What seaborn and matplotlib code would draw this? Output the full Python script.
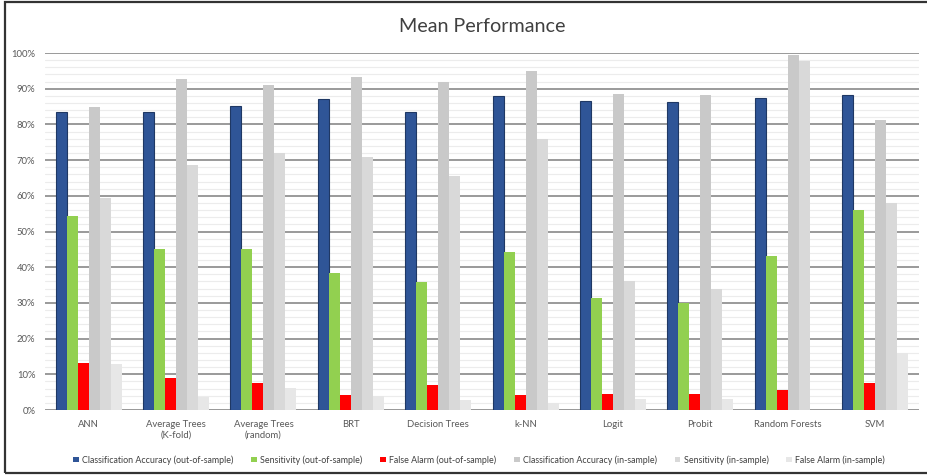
import numpy as np
import pandas as pd
import matplotlib
matplotlib.use("Agg")
import matplotlib.pyplot as plt
from matplotlib.patches import Rectangle
from matplotlib.ticker import MultipleLocator, FuncFormatter
import seaborn as sns

models = ["ANN", "Average Trees\n(K-fold)", "Average Trees\n(random)", "BRT",
          "Decision Trees", "k-NN", "Logit", "Probit", "Random Forests", "SVM"]
metrics = ["Classification Accuracy (out-of-sample)", "Sensitivity (out-of-sample)",
           "False Alarm (out-of-sample)", "Classification Accuracy (in-sample)",
           "Sensitivity (in-sample)", "False Alarm (in-sample)"]

acc_out = [83.5, 83.5, 85.1, 87.2, 83.5, 88.0, 86.6, 86.4, 87.4, 88.3]
sens_out = [54.3, 45.2, 45.2, 38.3, 35.8, 44.4, 31.4, 29.9, 43.2, 56.0]
fa_out = [13.2, 9.0, 7.6, 4.1, 6.9, 4.1, 4.5, 4.5, 5.5, 7.6]
acc_in = [84.9, 92.6, 90.9, 93.3, 92.0, 95.0, 88.4, 88.2, 99.4, 81.2]
sens_in = [59.5, 68.6, 72.1, 70.8, 65.5, 75.9, 36.1, 33.8, 97.7, 57.9]
fa_in = [12.8, 3.7, 6.3, 3.8, 2.7, 2.0, 3.1, 3.1, 0.0, 16.1]

colors = ["#2F5597", "#92D050", "#FF0000", "#C9C9C9", "#D9D9D9", "#E7E7E7"]

series = [acc_out, sens_out, fa_out, acc_in, sens_in, fa_in]
df = pd.DataFrame({
    "model": np.tile(models, len(metrics)),
    "metric": np.repeat(metrics, len(models)),
    "value": np.concatenate(series),
})

sns.set_theme(style="white")
plt.rcParams["font.family"] = ["Lato", "DejaVu Sans"]

fig = plt.figure(figsize=(9.28, 4.75), dpi=100)
ax = fig.add_axes([0.0485, 0.1368, 0.9415, 0.7516])

sns.barplot(data=df, x="model", y="value", hue="metric", order=models,
            hue_order=metrics, palette=colors, saturation=1, width=0.755,
            ax=ax, legend=True, linewidth=0, errorbar=None)

# darker outline on the out-of-sample accuracy bars
for patch in ax.containers[0]:
    patch.set_edgecolor("#1F3864")
    patch.set_linewidth(0.8)

ax.set_ylim(0, 100)
ax.set_xlim(-0.5, len(models) - 0.5)
ax.yaxis.set_major_locator(MultipleLocator(10))
ax.yaxis.set_minor_locator(MultipleLocator(2))
ax.yaxis.set_major_formatter(FuncFormatter(lambda v, p: f"{int(v)}%"))
ax.grid(which="minor", axis="y", color="#ECECEC", linewidth=0.8)
ax.grid(which="major", axis="y", color="#7F7F7F", linewidth=1.1)
ax.set_axisbelow(True)
for s in ax.spines.values():
    s.set_visible(False)
ax.axhline(0, color="#D0D0D0", linewidth=1.0, zorder=0.5)

ax.tick_params(axis="both", length=0, labelsize=6.8, labelcolor="#595959")
ax.tick_params(axis="y", pad=7)
ax.tick_params(axis="x", pad=7)
ax.set_xlabel("")
ax.set_ylabel("")

ax.set_title("Mean Performance", fontsize=14.2, color="#404040", pad=15)

handles, labels = ax.get_legend_handles_labels()
ax.legend(handles, labels, loc="center", bbox_to_anchor=(0.497, -0.14),
          ncol=6, frameon=False, fontsize=6.4, handlelength=0.6,
          handleheight=0.6, handletextpad=0.4, columnspacing=2.0,
          labelcolor="#404040")

# outer frame around the chart area
fig.patches.append(Rectangle((5 / 928, 2 / 475), 1.0, 471 / 475,
                             transform=fig.transFigure, fill=False,
                             edgecolor="#333333", linewidth=1.6))

fig.savefig("out.png", dpi=100)
